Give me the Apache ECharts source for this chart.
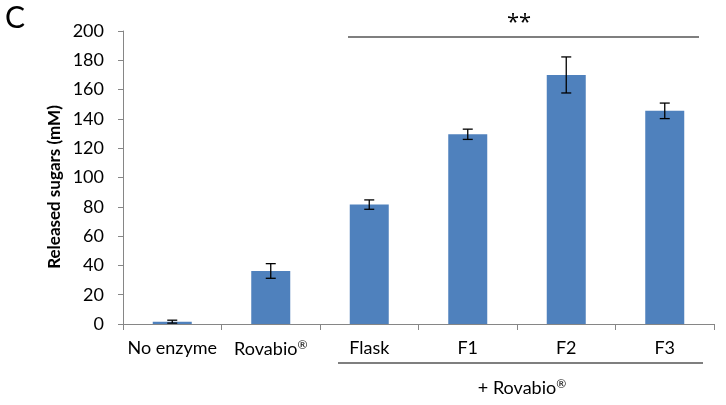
<!DOCTYPE html>
<html>
<head>
<meta charset="utf-8">
<script src="https://cdn.jsdelivr.net/npm/echarts@6/dist/echarts.min.js"></script>
<style>html,body{margin:0;padding:0;background:#fff}#c{width:726px;height:405px}</style>
</head>
<body>
<div id="c"></div>
<script>
var categories = ['No enzyme', 'Rovabio\u00AE', 'Flask', 'F1', 'F2', 'F3'];
var values = [1.6, 36.2, 81.5, 129.5, 170, 145.5];
var errors = [1, 5, 3.2, 3.5, 12.3, 5.3];
var yTicks = [0, 20, 40, 60, 80, 100, 120, 140, 160, 180, 200];

var FONT = 'Lato, "Open Sans", sans-serif';
var chart = echarts.init(document.getElementById('c'));
var errData = values.map(function (v, i) { return [i, v - errors[i], v + errors[i]]; });

function supFmt(s) {
  var p = s.split('\u00AE');
  return p.length > 1 ? '{n|' + p[0] + '}{sup|\u00AE}' : '{n|' + s + '}';
}
var richLbl = {
  n: { fontSize: 18, fontFamily: FONT, color: '#000' },
  sup: { fontSize: 12, fontFamily: FONT, color: '#000', verticalAlign: 'top', padding: [0, 0, 8, 0] }
};

chart.setOption({
  animation: false,
  backgroundColor: '#ffffff',
  grid: { left: 123, right: 12, top: 31, bottom: 81 },
  xAxis: {
    type: 'category',
    data: categories,
    axisLine: { lineStyle: { color: '#868686', width: 1 } },
    axisTick: { show: true, length: 6, inside: false, interval: 0, lineStyle: { color: '#868686' } },
    axisLabel: {
      interval: 0, color: '#000', fontSize: 18, fontFamily: FONT, margin: 15,
      formatter: function (v) { return supFmt(v); },
      rich: richLbl
    }
  },
  yAxis: {
    type: 'value',
    min: yTicks[0],
    max: yTicks[yTicks.length - 1],
    interval: 20,
    axisLine: { show: true, lineStyle: { color: '#868686', width: 1 } },
    axisTick: { show: true, length: 5, lineStyle: { color: '#868686' } },
    splitLine: { show: false },
    axisLabel: { color: '#000', fontSize: 18, fontFamily: FONT, margin: 19 }
  },
  graphic: [
    { type: 'text', left: 5, top: 3, style: { text: 'C', fontSize: 30, fontFamily: FONT, fill: '#000' } },
    { type: 'text', x: 55, y: 187, rotation: Math.PI / 2,
      style: { text: 'Released sugars (mM)', fontSize: 17, fontWeight: 'bold', fontFamily: FONT, fill: '#000', align: 'center', verticalAlign: 'middle' } },
    { type: 'text', x: 519, y: 23, style: { text: '**', fontSize: 22, fontFamily: '"Open Sans", sans-serif', fill: '#000', align: 'center', verticalAlign: 'middle' } },
    { type: 'line', shape: { x1: 348, y1: 37, x2: 699, y2: 37 }, style: { stroke: '#000', lineWidth: 1.2 } },
    { type: 'line', shape: { x1: 338, y1: 363, x2: 703, y2: 363 }, style: { stroke: '#000', lineWidth: 1.2 } },
    { type: 'text', x: 522, y: 388,
      style: { text: '{n|+ Rovabio}{sup|\u00AE}', align: 'center', verticalAlign: 'middle',
        rich: {
          n: { fontSize: 18, fontFamily: FONT, fill: '#000' },
          sup: { fontSize: 12, fontFamily: FONT, fill: '#000', verticalAlign: 'top', padding: [0, 0, 8, 0] }
        } } }
  ],
  series: [
    {
      type: 'bar',
      data: values,
      barWidth: 39,
      itemStyle: { color: '#4f81bd' }
    },
    {
      type: 'custom',
      data: errData,
      z: 10,
      renderItem: function (params, api) {
        var i = api.value(0);
        var lo = api.coord([i, api.value(1)]);
        var hi = api.coord([i, api.value(2)]);
        var hw = 5;
        var st = { stroke: '#000', lineWidth: 1.3 };
        return {
          type: 'group',
          children: [
            { type: 'line', shape: { x1: lo[0], y1: lo[1], x2: hi[0], y2: hi[1] }, style: st },
            { type: 'line', shape: { x1: lo[0] - hw, y1: lo[1], x2: lo[0] + hw, y2: lo[1] }, style: st },
            { type: 'line', shape: { x1: hi[0] - hw, y1: hi[1], x2: hi[0] + hw, y2: hi[1] }, style: st }
          ]
        };
      }
    }
  ]
});
</script>
</body>
</html>
